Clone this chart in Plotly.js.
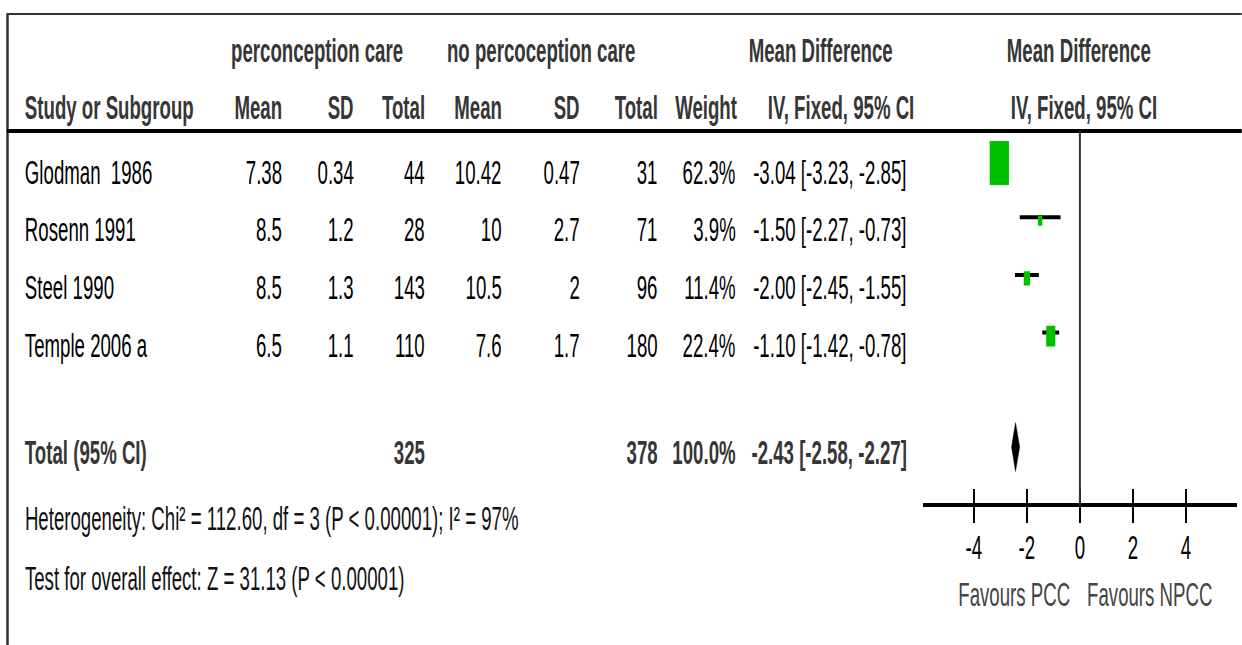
<!DOCTYPE html>
<html>
<head>
<meta charset="utf-8">
<script src="https://cdn.plot.ly/plotly-3.0.1.min.js"></script>
<style>
  html, body { margin: 0; padding: 0; background: #ffffff; }
  #frame { width: 1242px; height: 645px; overflow: hidden; position: relative; }
  #chart { position: absolute; left: 0; top: 0; transform-origin: 0 0; }
</style>
</head>
<body>
<div id="frame"><div id="chart"></div></div>
<script>
// ---- study data -------------------------------------------------------
const studies   = ['Glodman\u00a0 1986', 'Rosenn 1991', 'Steel 1990', 'Temple 2006 a'];
const pccMean   = [7.38, 8.5, 8.5, 6.5];
const pccSD     = [0.34, 1.2, 1.3, 1.1];
const pccN      = [44, 28, 143, 110];
const npccMean  = [10.42, 10, 10.5, 7.6];
const npccSD    = [0.47, 2.7, 2, 1.7];
const npccN     = [31, 71, 96, 180];
const weights   = [62.3, 3.9, 11.4, 22.4];
const meanDiff  = [-3.04, -1.50, -2.00, -1.10];
const ciLow     = [-3.23, -2.27, -2.45, -1.42];
const ciHigh    = [-2.85, -0.73, -1.55, -0.78];

// pooled result
const totalPccN   = 325;
const totalNpccN  = 378;
const totalWeight = 100.0;
const totalMD     = -2.43;
const totalLow    = -2.58;
const totalHigh   = -2.27;

const heterogeneityText = 'Heterogeneity: Chi\u00b2 = 112.60, df = 3 (P < 0.00001); I\u00b2 = 97%';
const overallText       = 'Test for overall effect: Z = 31.13 (P < 0.00001)';

const axisTicks   = [-4, -2, 0, 2, 4];
const axisLabels  = ['-4', '-2', '0', '2', '4'];
const favourLeft  = 'Favours PCC';
const favourRight = 'Favours NPCC';

// ---- page geometry (screen pixels) -----------------------------------
const FULL_W = 1242, FULL_H = 645;
const SQUEEZE = 0.565;                       // horizontal condensing of the whole figure
const W = Math.round(FULL_W / SQUEEZE);
const px = v => v / FULL_W;                   // screen x -> paper fraction
const thin = v => v / SQUEEZE;                // keep vertical strokes at v screen px

const FONT = '"Liberation Sans", Arial, Helvetica, sans-serif';
const FS = 33;

const rowY = i => 172 + i * 57.7;
const totalY = 452, hetY = 518, testY = 578;
const head1Y = 50, head2Y = 107;
const ruleY = 131, axisY = 505;

const plotLeft = 923, plotRight = 1237, zeroPx = 1080, unitPx = 26.5;
const xRange = [(plotLeft - zeroPx) / unitPx, (plotRight - zeroPx) / unitPx];

// column right edges
const colStudy = 24;
const colRight = { pm: 283, psd: 355, pn: 426, nm: 503, nsd: 581, nn: 659, w: 737, ci: 908 };

const fmtCI = (m, l, h) => m.toFixed(2) + ' [' + l.toFixed(2) + ', ' + h.toFixed(2) + ']';

// ---- annotations (table text) ----------------------------------------
const ann = [];
function txt(text, x, y, anchor, opts) {
  opts = opts || {};
  ann.push({
    text: opts.bold ? '<b>' + text + '</b>' : text,
    xref: 'paper', yref: 'y', x: px(x), y: y,
    xanchor: anchor, yanchor: 'middle', showarrow: false,
    font: { family: FONT, size: opts.size || FS, color: opts.color || '#000000' }
  });
}

const HC = '#363636';
// header row 1
txt('perconception care', 317, head1Y, 'center', { bold: true, color: HC });
txt('no percoception care', 541.5, head1Y, 'center', { bold: true, color: HC });
txt('Mean Difference', 821, head1Y, 'center', { bold: true, color: HC });
txt('Mean Difference', 1079, head1Y, 'center', { bold: true, color: HC });
// header row 2
txt('Study or Subgroup', colStudy, head2Y, 'left', { bold: true, color: HC });
txt('Mean', colRight.pm, head2Y, 'right', { bold: true, color: HC });
txt('SD', colRight.psd, head2Y, 'right', { bold: true, color: HC });
txt('Total', colRight.pn, head2Y, 'right', { bold: true, color: HC });
txt('Mean', colRight.nm, head2Y, 'right', { bold: true, color: HC });
txt('SD', colRight.nsd, head2Y, 'right', { bold: true, color: HC });
txt('Total', colRight.nn, head2Y, 'right', { bold: true, color: HC });
txt('Weight', 738, head2Y, 'right', { bold: true, color: HC });
txt('IV, Fixed, 95% CI', 841, head2Y, 'center', { bold: true, color: HC });
txt('IV, Fixed, 95% CI', 1084, head2Y, 'center', { bold: true, color: HC });

// study rows
studies.forEach((s, i) => {
  const y = rowY(i);
  txt(s, colStudy, y, 'left');
  txt(String(pccMean[i]), colRight.pm, y, 'right');
  txt(String(pccSD[i]), colRight.psd, y, 'right');
  txt(String(pccN[i]), colRight.pn, y, 'right');
  txt(String(npccMean[i]), colRight.nm, y, 'right');
  txt(String(npccSD[i]), colRight.nsd, y, 'right');
  txt(String(npccN[i]), colRight.nn, y, 'right');
  txt(weights[i].toFixed(1) + '%', colRight.w, y, 'right');
  txt(fmtCI(meanDiff[i], ciLow[i], ciHigh[i]), colRight.ci, y, 'right');
});

// pooled row
txt('Total (95% CI)', colStudy, totalY, 'left', { bold: true, color: HC });
txt(String(totalPccN), colRight.pn, totalY, 'right', { bold: true, color: HC });
txt(String(totalNpccN), colRight.nn, totalY, 'right', { bold: true, color: HC });
txt(totalWeight.toFixed(1) + '%', colRight.w, totalY, 'right', { bold: true, color: HC });
txt(fmtCI(totalMD, totalLow, totalHigh), colRight.ci, totalY, 'right', { bold: true, color: HC });

// footnotes
txt(heterogeneityText, colStudy, hetY, 'left', { color: '#111111' });
txt(overallText, colStudy, testY, 'left', { color: '#111111' });

// favour labels under the axis
txt(favourLeft, 1014, 594, 'center', { color: '#444444' });
txt(favourRight, 1150, 594, 'center', { color: '#444444' });

// ---- marks -----------------------------------------------------------
const markY = i => rowY(i) - 9;
const boxH = w => 7.7 + 0.58 * w;            // box height grows with weight
const boxW = w => 0.44 * boxH(w);            // condensed box width, screen px

const shapes = [
  // frame and header rule
  { type: 'line', xref: 'paper', yref: 'y', x0: px(7), x1: 1, y0: 14, y1: 14,
    line: { color: '#333333', width: 2 } },
  { type: 'line', xref: 'paper', yref: 'y', x0: px(7.5), x1: px(7.5), y0: 13, y1: FULL_H,
    line: { color: '#333333', width: thin(2.5) } },
  { type: 'line', xref: 'paper', yref: 'y', x0: px(7), x1: 1, y0: ruleY, y1: ruleY,
    line: { color: '#000000', width: 4 } },
  // line of no effect
  { type: 'line', xref: 'x', yref: 'y', x0: 0, x1: 0, y0: ruleY, y1: axisY,
    line: { color: '#333333', width: thin(2) } }
];

weights.forEach((w, i) => {
  const hw = boxW(w) / 2 / unitPx, hh = boxH(w) / 2;
  shapes.push({
    type: 'rect', xref: 'x', yref: 'y', layer: 'above',
    x0: meanDiff[i] - hw, x1: meanDiff[i] + hw,
    y0: markY(i) - hh, y1: markY(i) + hh,
    fillcolor: '#00c000', line: { width: 0 }
  });
});

// confidence interval whiskers
const ciX = [], ciY = [];
studies.forEach((s, i) => {
  ciX.push(ciLow[i], ciHigh[i], null);
  const y = markY(i) - 3.5;
  ciY.push(y, y, null);
});

const dY = totalY - 5, dH = 24.5;
const traces = [
  { type: 'scatter', mode: 'lines', x: ciX, y: ciY, xaxis: 'x', yaxis: 'y',
    line: { color: '#000000', width: 4 }, hoverinfo: 'skip', showlegend: false },
  { type: 'scatter', mode: 'lines', fill: 'toself', fillcolor: '#000000',
    x: [totalLow, totalMD, totalHigh, totalMD, totalLow],
    y: [dY, dY - dH, dY, dY + dH, dY], xaxis: 'x', yaxis: 'y',
    line: { color: '#000000', width: 0.5 }, hoverinfo: 'skip', showlegend: false },
  // carries the mirrored tick set
  { type: 'scatter', mode: 'markers', x: [0], y: [-100], xaxis: 'x2', yaxis: 'y',
    marker: { opacity: 0 }, hoverinfo: 'skip', showlegend: false }
];

const axPos = 1 - axisY / FULL_H;
const layout = {
  width: W, height: FULL_H,
  margin: { l: 0, r: 0, t: 0, b: 0, pad: 0 },
  paper_bgcolor: '#ffffff', plot_bgcolor: 'rgba(0,0,0,0)',
  showlegend: false, hovermode: false,
  font: { family: FONT, size: FS, color: '#000000' },
  xaxis: {
    domain: [px(plotLeft), px(plotRight)], range: xRange,
    anchor: 'free', position: axPos,
    showline: true, linewidth: 4, linecolor: '#000000',
    ticks: 'outside', ticklen: 16, tickwidth: thin(2), tickcolor: '#000000',
    tickmode: 'array', tickvals: axisTicks, ticktext: axisLabels,
    ticklabelstandoff: -4,
    tickfont: { family: FONT, size: FS, color: '#000000' },
    showgrid: false, zeroline: false, fixedrange: true
  },
  xaxis2: {
    overlaying: 'x', domain: [px(plotLeft), px(plotRight)], range: xRange,
    anchor: 'free', position: axPos,
    showline: false, ticks: 'inside', ticklen: 16, tickwidth: thin(2), tickcolor: '#000000',
    tickmode: 'array', tickvals: axisTicks, showticklabels: false,
    showgrid: false, zeroline: false, fixedrange: true
  },
  yaxis: { range: [FULL_H, 0], domain: [0, 1], visible: false, fixedrange: true },
  shapes: shapes,
  annotations: ann
};

const el = document.getElementById('chart');
el.style.width = W + 'px';
el.style.height = FULL_H + 'px';
el.style.transform = 'scaleX(' + SQUEEZE + ')';
Plotly.newPlot(el, traces, layout, { staticPlot: true, displayModeBar: false });
</script>
</body>
</html>
